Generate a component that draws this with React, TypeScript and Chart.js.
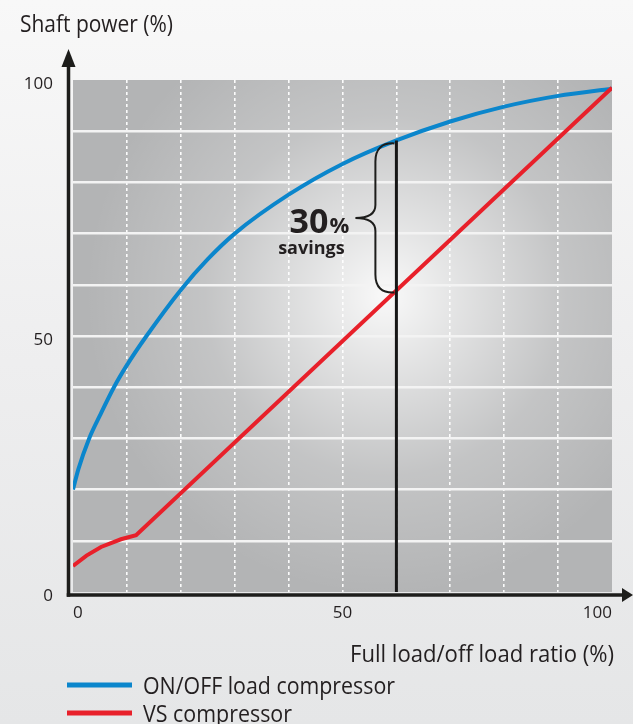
import React, { useEffect, useRef } from 'react';
import { Chart, registerables } from 'chart.js';

Chart.register(...registerables);

// ---- data ----
const onOffX = [0, 1, 3, 5, 7.6, 10, 13.5, 20, 25, 30, 40, 50, 60, 70, 80, 90, 100];
const onOffY = [20, 24, 30, 34.5, 40, 44.3, 49.8, 59.0, 65.0, 70.0, 77.6, 83.6, 88.2, 91.9, 94.8, 96.9, 98.3];
const vsX = [0, 2.5, 5.2, 8.9, 11.7, 100];
const vsY = [5.1, 7.1, 8.8, 10.3, 11.1, 98.5];
const markerX = 60;
const markerTop = 88.2;
const markerBottom = 0;
const savingsTop = 88.2;
const savingsBottom = 58.9;
const labeledTicks = [0, 50, 100];
const seriesLabels = ['ON/OFF load compressor', 'VS compressor'];
const yTitle = 'Shaft power (%)';
const xTitle = 'Full load/off load ratio (%)';
const savingsValue = '30';
const savingsUnit = '%';
const savingsText = 'savings';

const BLUE = '#0b86cc';
const RED = '#e8202a';
const INK = '#231f20';
const FONT = '"Open Sans", "Noto Sans", sans-serif';

function fitText(ctx: CanvasRenderingContext2D, text: string, x: number, y: number, width: number, align: 'left' | 'right') {
  const w = ctx.measureText(text).width;
  const s = width / w;
  ctx.save();
  ctx.translate(align === 'left' ? x : x - width, y);
  ctx.scale(s, 1);
  ctx.textAlign = 'left';
  ctx.textBaseline = 'alphabetic';
  ctx.fillText(text, 0, 0);
  ctx.restore();
}

const decor = {
  id: 'decor',
  beforeDraw(chart: any) {
    const { ctx, chartArea: a } = chart;
    ctx.save();
    ctx.fillStyle = '#b3b4b5';
    ctx.fillRect(a.left, a.top, a.right - a.left, a.bottom - a.top);
    const cx = a.left + (a.right - a.left) * 0.58;
    const cy = a.top + (a.bottom - a.top) * 0.42;
    const g = ctx.createRadialGradient(cx, cy, 0, cx, cy, 300);
    g.addColorStop(0, 'rgba(255,255,255,0.92)');
    g.addColorStop(0.25, 'rgba(255,255,255,0.62)');
    g.addColorStop(0.6, 'rgba(255,255,255,0.22)');
    g.addColorStop(1, 'rgba(255,255,255,0)');
    ctx.fillStyle = g;
    ctx.fillRect(a.left, a.top, a.right - a.left, a.bottom - a.top);
    ctx.restore();
  },
  afterDraw(chart: any) {
    const { ctx, chartArea: a } = chart;
    const xs = chart.scales.x;
    const ys = chart.scales.y;
    ctx.save();
    // axes with arrows
    ctx.strokeStyle = '#1d1d1b';
    ctx.fillStyle = '#1d1d1b';
    ctx.lineWidth = 3.5;
    const ax = a.left - 4.5;
    const ay = a.bottom + 3;
    ctx.beginPath();
    ctx.moveTo(ax, ay + 1.75);
    ctx.lineTo(ax, a.top - 14);
    ctx.stroke();
    ctx.beginPath();
    ctx.moveTo(ax, a.top - 31);
    ctx.lineTo(ax - 7, a.top - 13);
    ctx.lineTo(ax + 7, a.top - 13);
    ctx.closePath();
    ctx.fill();
    ctx.beginPath();
    ctx.moveTo(ax - 1.75, ay);
    ctx.lineTo(a.right + 12, ay);
    ctx.stroke();
    ctx.beginPath();
    ctx.moveTo(a.right + 21, ay);
    ctx.lineTo(a.right + 10, ay - 7);
    ctx.lineTo(a.right + 10, ay + 7);
    ctx.closePath();
    ctx.fill();

    // titles
    ctx.fillStyle = INK;
    ctx.font = `24px ${FONT}`;
    fitText(ctx, yTitle, 20, 32, 153, 'left');
    fitText(ctx, xTitle, 614, 662, 264, 'right');

    // legend
    const legendW = [252, 149];
    const dsets = chart.data.datasets.filter((d: any) => d.inLegend);
    dsets.forEach((d: any, i: number) => {
      const ly = 685 + i * 28;
      ctx.strokeStyle = d.borderColor;
      ctx.lineWidth = 5;
      ctx.beginPath();
      ctx.moveTo(67, ly);
      ctx.lineTo(132, ly);
      ctx.stroke();
      ctx.fillStyle = INK;
      ctx.font = `24px ${FONT}`;
      fitText(ctx, d.label, 143, ly + 9, legendW[i], 'left');
    });

    // brace
    const xv = xs.getPixelForValue(markerX);
    const yT = ys.getPixelForValue(savingsTop) + 3;
    const yB = ys.getPixelForValue(savingsBottom) + 2;
    const ym = (yT + yB) / 2;
    const xsp = xv - 21;
    const xp = xv - 41;
    ctx.strokeStyle = '#1d1d1b';
    ctx.lineWidth = 2;
    ctx.beginPath();
    ctx.moveTo(xv - 2, yT);
    ctx.quadraticCurveTo(xsp, yT - 1, xsp, yT + 18);
    ctx.lineTo(xsp, ym - 13);
    ctx.quadraticCurveTo(xsp, ym, xp, ym);
    ctx.quadraticCurveTo(xsp, ym, xsp, ym + 13);
    ctx.lineTo(xsp, yB - 18);
    ctx.quadraticCurveTo(xsp, yB + 1, xv - 2, yB);
    ctx.stroke();

    // savings text
    ctx.fillStyle = INK;
    ctx.textBaseline = 'alphabetic';
    ctx.font = `bold 34px ${FONT}`;
    ctx.textAlign = 'right';
    ctx.fillText(savingsValue, xp - 27, ym + 15);
    ctx.font = `bold 22px ${FONT}`;
    ctx.textAlign = 'left';
    ctx.fillText(savingsUnit, xp - 26, ym + 15);
    ctx.font = `bold 18px ${FONT}`;
    ctx.textAlign = 'center';
    ctx.fillText(savingsText, xp - 44, ym + 36);
    ctx.restore();
  },
};

export default function App() {
  const ref = useRef<HTMLCanvasElement | null>(null);
  useEffect(() => {
    if (!ref.current) return;
    const chart = new Chart(ref.current, {
      type: 'line',
      data: {
        datasets: [
          {
            label: seriesLabels[0],
            inLegend: true,
            data: onOffX.map((x, i) => ({ x, y: onOffY[i] })),
            borderColor: BLUE,
            borderWidth: 4,
            pointRadius: 0,
            cubicInterpolationMode: 'monotone',
            order: 2,
          } as any,
          {
            label: seriesLabels[1],
            inLegend: true,
            data: vsX.map((x, i) => ({ x, y: vsY[i] })),
            borderColor: RED,
            borderWidth: 4,
            pointRadius: 0,
            tension: 0,
            order: 1,
          } as any,
          {
            label: 'marker',
            inLegend: false,
            data: [
              { x: markerX, y: markerTop },
              { x: markerX, y: markerBottom },
            ],
            borderColor: '#161616',
            borderWidth: 3,
            pointRadius: 0,
            order: 0,
          } as any,
        ],
      },
      options: {
        animation: false,
        responsive: false,
        layout: { padding: { top: 80, right: 21, left: 0, bottom: 0 } },
        plugins: { legend: { display: false }, tooltip: { enabled: false } },
        scales: {
          x: {
            type: 'linear',
            min: 0,
            max: 100,
            afterFit: (s: any) => {
              s.height = 132;
            },
            border: { display: false, dash: [3, 3] },
            grid: {
              drawTicks: false,
              lineWidth: 1.6,
              color: (c: any) => (c.tick && (c.tick.value === 0 || c.tick.value === 100) ? 'rgba(0,0,0,0)' : 'rgba(255,255,255,0.95)'),
            },
            ticks: {
              stepSize: 10,
              padding: 11,
              align: 'inner',
              color: INK,
              font: { family: FONT, size: 17 },
              maxRotation: 0,
              autoSkip: false,
              callback: (v: any) => (labeledTicks.includes(Number(v)) ? String(v) : ''),
            },
          },
          y: {
            type: 'linear',
            min: 0,
            max: 100,
            afterFit: (s: any) => {
              s.width = 73;
            },
            border: { display: false },
            grid: {
              drawTicks: false,
              lineWidth: 2.5,
              color: (c: any) => (c.tick && (c.tick.value === 0 || c.tick.value === 100) ? 'rgba(0,0,0,0)' : '#f3f3f3'),
            },
            ticks: {
              stepSize: 10,
              padding: 20,
              labelOffset: 4,
              color: INK,
              font: { family: FONT, size: 17 },
              autoSkip: false,
              callback: (v: any) => (labeledTicks.includes(Number(v)) ? String(v) : ''),
            },
          },
        },
      } as any,
      plugins: [decor],
    });
    return () => chart.destroy();
  }, []);
  return (
    <div
      style={{
        position: 'absolute',
        left: 0,
        top: 0,
        width: 633,
        height: 724,
        background: 'linear-gradient(180deg, #f8f8f8 0%, #eeeeef 50%, #e5e6e7 100%)',
      }}
    >
      <canvas ref={ref} width={633} height={724} style={{ display: 'block' }} />
    </div>
  );
}
